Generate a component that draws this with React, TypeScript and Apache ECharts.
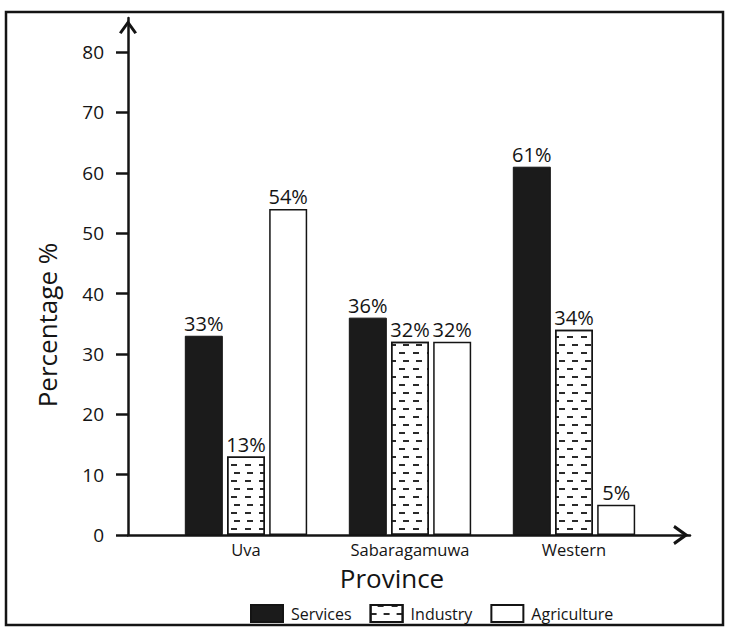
import React, { useEffect, useRef } from "react";
import * as echarts from "echarts";

const categories = ["Uva", "Sabaragamuwa", "Western"];
const services = [33, 36, 61];
const industry = [13, 32, 34];
const agriculture = [54, 32, 5];
const seriesNames = ["Services", "Industry", "Agriculture"];

const FONT = "'Open Sans', 'Noto Sans', sans-serif";
const INK = "#141414";

// open chevron arrow pointing up
const chevron = "path://M10,0 L20,14 L17.2,15.6 L10,5.6 L2.8,15.6 L0,14 Z";

export default function App() {
  const ref = useRef<HTMLDivElement>(null);
  useEffect(() => {
    if (!ref.current) return;
    const chart = echarts.init(ref.current, null, { renderer: "svg" });
    const industryDecal = {
      symbol: "rect",
      symbolSize: 1,
      symbolKeepAspect: false,
      color: "#2a2a2a",
      dashArrayX: [[6, 7], [0, 6.5, 6, 0.5]],
      dashArrayY: [1.3, 5.2],
      rotation: 0,
    };
    const barLabel = {
      show: true,
      position: "top",
      distance: 2,
      formatter: "{c}%",
      fontFamily: FONT,
      fontSize: 20,
      color: INK,
    };
    chart.setOption({
      animation: false,
      backgroundColor: "#ffffff",
      textStyle: { fontFamily: FONT, color: INK },
      grid: [
        { left: 164, right: 75, top: 52, bottom: 95, containLabel: false },
        { left: 128, right: 41, top: 18, bottom: 95, containLabel: false },
      ],
      xAxis: [
        {
          type: "category",
          gridIndex: 0,
          data: categories,
          axisLine: { show: false },
          axisTick: { show: false },
          axisLabel: { fontSize: 16.5, color: INK, margin: 6, fontFamily: FONT },
        },
        {
          type: "value",
          gridIndex: 1,
          min: 0,
          max: 1,
          axisLine: {
            show: true,
            lineStyle: { color: INK, width: 2.5 },
            symbol: ["none", chevron],
            symbolSize: [20, 18],
            symbolOffset: [0, -9],
          },
          axisTick: { show: false },
          axisLabel: { show: false },
          splitLine: { show: false },
        },
      ],
      yAxis: [
        {
          type: "value",
          gridIndex: 0,
          min: 0,
          max: 80,
          interval: 10,
          offset: 36,
          axisLine: { show: false },
          axisTick: { show: true, length: 12, lineStyle: { color: INK, width: 2.5 } },
          axisLabel: { fontSize: 19, color: INK, margin: 24, fontFamily: FONT },
          splitLine: { show: false },
        },
        {
          type: "value",
          gridIndex: 1,
          min: 0,
          max: 1,
          axisLine: {
            show: true,
            lineStyle: { color: INK, width: 2.5 },
            symbol: ["none", chevron],
            symbolSize: [18, 18],
            symbolOffset: [0, -9],
          },
          axisTick: { show: false },
          axisLabel: { show: false },
          splitLine: { show: false },
        },
      ],
      legend: {
        left: 250,
        top: 604,
        padding: 0,
        itemWidth: 32,
        itemHeight: 17,
        itemGap: 18,
        icon: "rect",
        textStyle: { fontSize: 16, color: INK, fontFamily: FONT, padding: [0, 0, 0, 3] },
        data: seriesNames,
      },
      series: [
        {
          name: seriesNames[0],
          type: "bar",
          xAxisIndex: 0,
          yAxisIndex: 0,
          data: services,
          barWidth: 38,
          barGap: "11%",
          itemStyle: { color: "#1b1b1b", borderColor: INK, borderWidth: 1 },
          label: barLabel,
        },
        {
          name: seriesNames[1],
          type: "bar",
          xAxisIndex: 0,
          yAxisIndex: 0,
          data: industry,
          barWidth: 38,
          barGap: "11%",
          itemStyle: { color: "#ffffff", borderColor: INK, borderWidth: 1.5, decal: industryDecal },
          label: barLabel,
        },
        {
          name: seriesNames[2],
          type: "bar",
          xAxisIndex: 0,
          yAxisIndex: 0,
          data: agriculture,
          barWidth: 38,
          barGap: "11%",
          itemStyle: { color: "#ffffff", borderColor: INK, borderWidth: 1.5 },
          label: barLabel,
        },
      ],
      graphic: [
        {
          type: "rect",
          shape: { x: 6, y: 12, width: 717, height: 613 },
          style: { fill: "none", stroke: INK, lineWidth: 2.5 },
          silent: true,
        },
        {
          type: "text",
          x: 47,
          y: 325,
          rotation: Math.PI / 2,
          style: {
            text: "Percentage %",
            fontSize: 26,
            fontFamily: FONT,
            fill: INK,
            textAlign: "center",
            textVerticalAlign: "middle",
          },
        },
        {
          type: "text",
          x: 392,
          y: 578,
          style: {
            text: "Province",
            fontSize: 26,
            fontFamily: FONT,
            fill: INK,
            textAlign: "center",
            textVerticalAlign: "middle",
          },
        },
      ],
    });
    return () => chart.dispose();
  }, []);
  return (
    <div
      ref={ref}
      style={{ position: "fixed", left: 0, top: 0, width: 731, height: 630 }}
    />
  );
}
